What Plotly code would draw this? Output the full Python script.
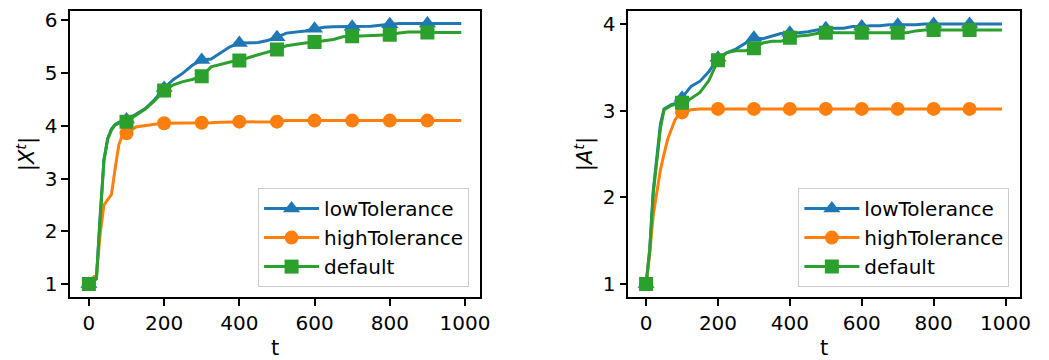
import plotly.graph_objects as go

t = [0, 10, 20, 30, 40, 50, 60, 70, 80, 90, 100,
     125, 150, 175, 200, 225, 250, 275, 300, 325, 350, 375, 400, 425, 450, 475,
     500, 525, 550, 575, 600, 625, 650, 675, 700, 725, 750, 775, 800, 825, 850,
     875, 900, 925, 950, 975, 990]

x_low = [1.00, 1.05, 1.10, 2.30, 3.35, 3.76, 3.94, 4.03, 4.07, 4.09, 4.12,
         4.22, 4.33, 4.50, 4.72, 4.88, 5.00, 5.15, 5.25, 5.27, 5.38, 5.50, 5.57, 5.57, 5.58, 5.62,
         5.68, 5.76, 5.78, 5.80, 5.84, 5.87, 5.88, 5.88, 5.88, 5.89, 5.89, 5.91, 5.93, 5.94, 5.94,
         5.94, 5.94, 5.94, 5.94, 5.94, 5.94]
x_high = [1.00, 1.12, 1.17, 1.95, 2.50, 2.60, 2.70, 3.20, 3.65, 3.84, 3.86,
          3.98, 4.01, 4.03, 4.05, 4.05, 4.06, 4.06, 4.06, 4.06, 4.07, 4.07, 4.08, 4.08, 4.08, 4.08,
          4.08, 4.10, 4.10, 4.10, 4.10, 4.10, 4.10, 4.10, 4.10, 4.10, 4.10, 4.10, 4.10, 4.10, 4.10,
          4.10, 4.10, 4.10, 4.10, 4.10, 4.10]
x_def = [1.00, 1.04, 1.10, 2.30, 3.35, 3.75, 3.92, 4.02, 4.05, 4.06, 4.08,
         4.20, 4.32, 4.48, 4.67, 4.78, 4.84, 4.88, 4.94, 5.12, 5.17, 5.21, 5.24, 5.30, 5.35, 5.40,
         5.45, 5.52, 5.55, 5.57, 5.59, 5.62, 5.64, 5.69, 5.70, 5.71, 5.71, 5.72, 5.73, 5.76, 5.78,
         5.78, 5.77, 5.77, 5.77, 5.77, 5.77]

a_low = [1.00, 1.40, 2.08, 2.50, 2.85, 3.02, 3.05, 3.07, 3.08, 3.10, 3.15,
         3.28, 3.34, 3.45, 3.61, 3.67, 3.71, 3.78, 3.84, 3.83, 3.86, 3.89, 3.90, 3.90, 3.91, 3.93,
         3.95, 3.95, 3.95, 3.97, 3.97, 3.98, 3.98, 3.99, 3.99, 3.99, 3.99, 4.00, 4.00, 4.00, 4.00,
         4.00, 4.00, 4.00, 4.00, 4.00, 4.00]
a_high = [1.00, 1.35, 1.80, 2.05, 2.32, 2.50, 2.67, 2.78, 2.89, 2.95, 2.98,
          3.01, 3.02, 3.02, 3.02, 3.02, 3.02, 3.02, 3.02, 3.02, 3.02, 3.02, 3.02, 3.02, 3.02, 3.02,
          3.02, 3.02, 3.02, 3.02, 3.02, 3.02, 3.02, 3.02, 3.02, 3.02, 3.02, 3.02, 3.02, 3.02, 3.02,
          3.02, 3.02, 3.02, 3.02, 3.02, 3.02]
a_def = [1.00, 1.38, 2.05, 2.45, 2.80, 3.01, 3.04, 3.06, 3.07, 3.08, 3.09,
         3.14, 3.21, 3.35, 3.58, 3.67, 3.69, 3.69, 3.72, 3.78, 3.80, 3.80, 3.84, 3.86, 3.87, 3.89,
         3.90, 3.90, 3.90, 3.90, 3.90, 3.90, 3.90, 3.90, 3.90, 3.90, 3.92, 3.93, 3.93, 3.93, 3.93,
         3.93, 3.93, 3.93, 3.93, 3.93, 3.93]

series_names = ["lowTolerance", "highTolerance", "default"]
colors = ["#1f77b4", "#ff7f0e", "#2ca02c"]
symbols = ["triangle-up", "circle", "square"]
sizes = [15, 14, 14]
x_ticks = [0, 200, 400, 600, 800, 1000]

FONT = "DejaVu Sans"
fig = go.Figure()


def add(vals, i, xa, ya, legend):
    mc = [colors[i] if (tt % 100 == 0 and tt <= 900) else "rgba(0,0,0,0)" for tt in t]
    fig.add_trace(go.Scatter(
        x=t, y=vals, name=series_names[i], mode="lines+markers",
        xaxis=xa, yaxis=ya, legend=legend,
        line=dict(color=colors[i], width=3),
        marker=dict(color=mc, symbol=symbols[i], size=sizes[i], line=dict(width=0)),
    ))


for i, v in enumerate([x_low, x_high, x_def]):
    add(v, i, "x", "y", "legend")
for i, v in enumerate([a_low, a_high, a_def]):
    add(v, i, "x2", "y2", "legend2")

axis_common = dict(
    showline=True, mirror=True, linecolor="black", linewidth=1.6,
    ticks="outside", ticklen=7, tickwidth=1.6, tickcolor="black",
    showgrid=False, zeroline=False,
    tickfont=dict(family=FONT, size=20, color="black"),
    title_font=dict(family=FONT, size=21, color="black"),
)

legend_common = dict(
    xanchor="right", yanchor="bottom",
    bgcolor="rgba(255,255,255,0.8)", bordercolor="#cccccc", borderwidth=1,
    font=dict(family=FONT, size=20, color="black"), itemwidth=55,
)

fig.update_layout(
    width=1049, height=360,
    margin=dict(l=0, r=0, t=0, b=0),
    plot_bgcolor="white", paper_bgcolor="white",
    font=dict(family=FONT, size=20, color="black"),
    xaxis=dict(domain=[0.0677, 0.4623], anchor="y", range=[-49.5, 1039.5],
               tickvals=x_ticks, title=dict(text="t", standoff=8), **axis_common),
    yaxis=dict(domain=[0.1758, 0.975], anchor="x", range=[0.753, 6.18],
               tickvals=[1, 2, 3, 4, 5, 6],
               title=dict(text="|<i>X</i><sup><i>t</i></sup>|", standoff=4), **axis_common),
    xaxis2=dict(domain=[0.6053, 0.9824], anchor="y2", range=[-49.5, 1039.5],
                tickvals=x_ticks, title=dict(text="t", standoff=8), **axis_common),
    yaxis2=dict(domain=[0.1758, 0.975], anchor="x2", range=[0.85, 4.15],
                tickvals=[1, 2, 3, 4],
                title=dict(text="|<i>A</i><sup><i>t</i></sup>|", standoff=4), **axis_common),
    legend=dict(x=0.4519, y=0.2036, **legend_common),
    legend2=dict(x=0.9724, y=0.2036, **legend_common),
)

fig.write_html("out.html")
